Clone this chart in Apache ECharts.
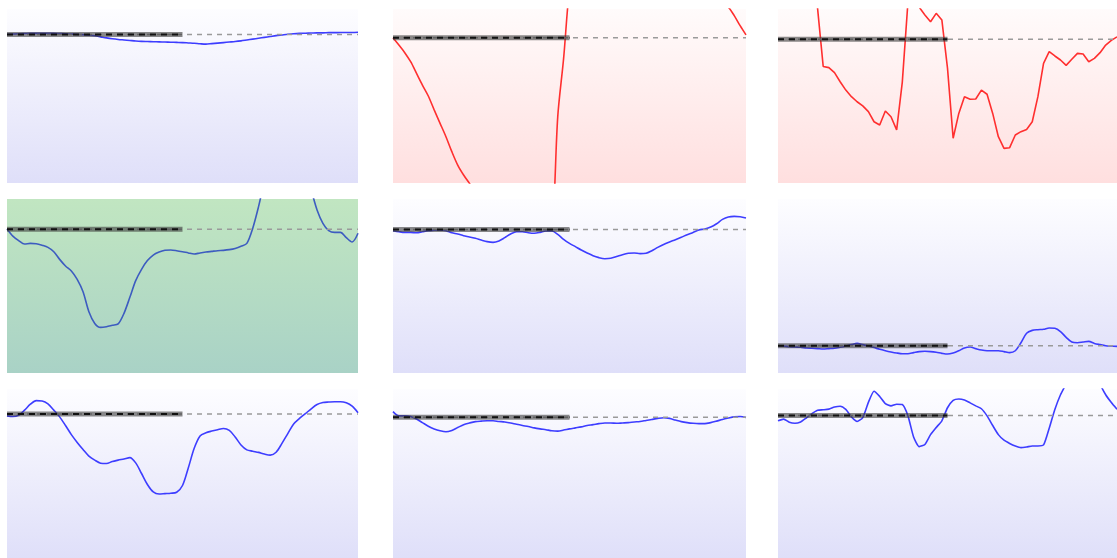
<!DOCTYPE html>
<html>
<head>
<meta charset="utf-8">
<style>
  html, body { margin: 0; padding: 0; background: #ffffff; }
  #chart { width: 1117px; height: 558px; }
</style>
<script src="https://cdn.jsdelivr.net/npm/echarts@6/dist/echarts.min.js"></script>
</head>
<body>
<div id="chart"></div>
<script>
// Sample slots shared by every sparkline (x axis categories)
const slots = [0,1,2,3,4,5,6,7,8,9,10,11,12,13,14,15,16,17,18,19,20,
  21,22,23,24,25,26,27,28,29,30,31,32,33,34,35,36,37,38,39,40,
  41,42,43,44,45,46,47,48,49,50,51,52,53,54,55,56,57,58,59,60];

// Slot where the first session ends (the highlighted part of the reference line)
const sessionEnd = 30;

// Reference level for each sparkline
const baselines = [85.4, 83.5, 82.6, 82.6, 82.4, 15.7, 85.2, 83.3, 84.3];

const values1 = [85.4,85.6,85.8,85.9,86.0,86.0,86.1,86.0,86.0,85.9,85.8,85.6,85.4,85.3,85.0,84.6,84.0,83.4,82.9,82.5,
  82.2,81.9,81.6,81.4,81.3,81.2,81.1,81.0,80.9,80.8,80.7,80.5,80.3,80.0,79.8,80.1,80.4,80.7,81.0,81.3,
  81.7,82.2,82.7,83.2,83.7,84.2,84.7,85.1,85.5,85.8,86.0,86.1,86.2,86.3,86.3,86.4,86.4,86.5,86.5,86.5,86.6];

const values2 = [83.5,79.3,74.9,69.7,63.0,56.3,50.0,42.0,34.3,26.6,18.0,10.3,4.6,-0.2,-5,-10,-14,-18,-21,-24,
  -26,-28,-29,-30,-31,-32,-32,-30,38,71.6,112,130,145,155,162,168,172,175,176,176,
  175,172,168,165,160,155,150,145,140,135,130,125,120,115,110,106,103,101,96.2,90.4,85.1];

const values3 = [150,148,145,140,135,125,115,100.5,67,66.3,63.4,58.2,53.4,49.6,46.7,44.3,41.0,35.2,33.3,41.4,
  38.1,30.5,58,104,108,101,96.6,92.7,97.5,93.7,66,25.7,40.0,49.6,48.1,48.3,53.4,51.0,40.0,26.6,
  19.9,20.3,27.6,29.5,30.8,35.2,49.6,68.8,75.5,73.0,70.7,67.6,71.1,74.5,74.1,69.7,71.6,74.9,79.3,82,84];

const values4 = [82.8,78.7,76.1,74.1,74.5,74.3,73.4,72.2,69.7,65.3,61.5,58.6,53.8,46.7,35.2,28.5,26.2,26.6,27.4,28.2,
  34.3,43.5,53.1,59.6,64.6,67.8,69.5,70.5,70.7,70.3,69.7,69.0,68.4,69.0,69.5,69.9,70.3,70.5,70.9,71.6,
  72.8,74.5,83.1,95.6,110,120,128,132,134,132,126,115,105,93.7,86.0,81.8,80.8,80.8,77.8,75.3,80.3];

const values5 = [81.8,81.2,80.8,80.8,80.6,81.2,81.8,82.0,82.2,81.8,80.6,79.9,78.9,78.2,77.4,76.4,75.5,75.1,75.9,77.8,
  79.9,81.2,81.2,80.6,80.3,80.8,81.6,81.6,79.7,76.8,74.5,72.6,70.7,69.0,67.4,66.3,65.7,65.9,66.9,68.0,
  68.8,69.0,68.6,68.8,70.3,72.2,73.9,75.3,76.6,78.0,79.5,80.8,82.2,82.8,83.9,85.8,88.3,89.7,90.0,89.8,89.1];

const values6 = [15.7,15.5,15.1,14.9,14.8,14.4,14.2,14.0,13.8,14.0,14.2,14.8,15.5,16.3,17.0,16.3,15.5,14.6,13.6,12.8,
  12.1,11.5,11.1,11.1,11.7,12.3,12.5,12.3,11.9,11.3,10.9,11.5,12.8,14.4,14.9,14.0,13.2,12.8,12.8,12.8,
  12.3,11.7,12.8,17.4,22.8,24.5,24.9,25.1,25.9,25.7,23.8,20.5,17.8,17.4,17.8,18.2,17.0,16.3,15.7,15.5,15.3];

const values7 = [84.1,83.7,84.5,87.5,91.0,93.1,92.9,91.2,87.5,83.5,78.4,73.0,68.4,64.2,60.3,57.9,56.1,55.9,57.1,57.9,
  58.6,59.4,56.3,50.0,43.5,39.1,37.9,38.1,38.3,38.9,42.9,53.4,64.9,72.2,74.1,75.1,75.9,76.6,75.5,71.6,
  66.9,64.0,63.2,62.5,61.5,60.9,62.6,67.8,73.6,79.3,82.6,85.4,88.3,90.8,92.0,92.3,92.5,92.5,91.8,89.8,86.0];

const values8 = [86.6,84.1,84.1,83.7,82.2,80.1,78.0,76.4,75.3,74.7,75.5,77.2,78.9,79.9,80.7,81.0,81.2,81.2,80.8,80.5,
  79.9,79.1,78.4,77.8,77.0,76.4,75.9,75.3,75.1,75.7,76.4,77.0,77.6,78.4,78.9,79.5,79.9,79.9,79.7,79.9,
  80.1,80.5,80.8,81.4,82.0,82.6,83.0,82.6,81.6,80.7,80.1,79.7,79.5,79.5,80.1,81.0,82.0,82.8,83.5,83.7,83.1];

const values9 = [81.2,82.2,80.3,79.7,80.5,82.8,85.4,87.4,87.7,88.1,89.3,89.8,87.9,83.5,80.8,83.1,92.1,98.7,95.6,91.4,
  90.0,91.0,90.8,84.1,71.6,65.9,67.2,73.0,77.2,81.2,88.9,93.3,94.1,93.5,91.8,90.0,88.3,84.1,78.4,73.0,
  69.7,67.8,66.3,65.3,65.7,66.3,66.3,66.9,76.8,87.9,96.6,103,110,114,116,115,112,103,96.6,92,88];

const panelValues = [values1, values2, values3, values4, values5, values6, values7, values8, values9];

// Visual themes: background gradient (top, bottom) and line colour
const themes = {
  blue:  { top: '#fdfdff', bottom: '#dfdff9', line: '#3d3dff' },
  red:   { top: '#fffbfb', bottom: '#ffdfdf', line: '#ff2f2f' },
  green: { top: '#c1e6c1', bottom: '#a9d2c6', line: '#3d5cc0' }
};
const panelThemes = ['blue', 'red', 'red', 'green', 'blue', 'blue', 'blue', 'blue', 'blue'];
// Curve smoothing per panel (0 keeps straight segments)
const panelSmooth = [0.3, 0.3, 0, 0.3, 0.3, 0.3, 0.3, 0.3, 0.2];

// Panel placement (pixels)
const colLefts = [7, 393, 778];
const colWidths = [351, 353, 352];
const rowTops = [9, 199, 389];
const panelHeight = 174;

const grids = [], xAxes = [], yAxes = [], series = [];

panelValues.forEach((vals, k) => {
  const col = k % 3, row = Math.floor(k / 3);
  const th = themes[panelThemes[k]];
  const base = baselines[k];

  grids.push({
    left: colLefts[col], top: rowTops[row], width: colWidths[col], height: panelHeight,
    show: true, borderWidth: 0,
    backgroundColor: new echarts.graphic.LinearGradient(0, 0, 0, 1, [
      { offset: 0, color: th.top }, { offset: 1, color: th.bottom }
    ])
  });
  xAxes.push({
    gridIndex: k, type: 'category', data: slots, boundaryGap: false, show: false
  });
  yAxes.push({
    gridIndex: k, type: 'value', min: 0, max: 100, show: false, splitLine: { show: false }
  });

  const fullRef = slots.map(() => base);
  const sessionRef = slots.map((s) => (s <= sessionEnd ? base : null));

  // Price line
  series.push({
    type: 'line', xAxisIndex: k, yAxisIndex: k, data: vals, showSymbol: false,
    clip: true, z: 2, silent: true, smooth: panelSmooth[k],
    lineStyle: { color: th.line, width: 1.6 }
  });
  // Reference level across the whole range
  series.push({
    type: 'line', xAxisIndex: k, yAxisIndex: k, data: fullRef, showSymbol: false,
    z: 3, silent: true,
    lineStyle: { color: '#9a9a9a', width: 1.5, type: [5, 5] }
  });
  // Highlighted first-session band
  series.push({
    type: 'line', xAxisIndex: k, yAxisIndex: k, data: sessionRef, showSymbol: false,
    z: 4, silent: true, connectNulls: false,
    lineStyle: { color: 'rgba(60,60,60,0.6)', width: 5, cap: 'butt' }
  });
  series.push({
    type: 'line', xAxisIndex: k, yAxisIndex: k, data: sessionRef, showSymbol: false,
    z: 5, silent: true, connectNulls: false,
    lineStyle: { color: '#111111', width: 2, type: [6, 5] }
  });
});

const chart = echarts.init(document.getElementById('chart'), null, { renderer: 'canvas' });
chart.setOption({
  animation: false,
  backgroundColor: '#ffffff',
  grid: grids,
  xAxis: xAxes,
  yAxis: yAxes,
  series: series
});
</script>
</body>
</html>
